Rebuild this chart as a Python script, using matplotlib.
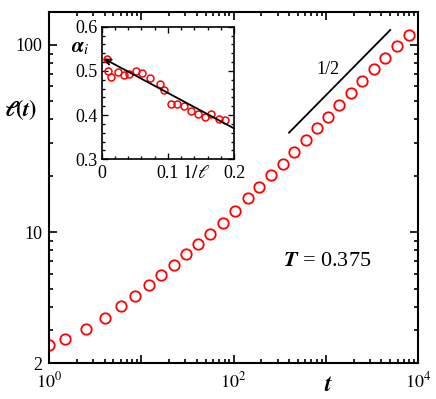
import matplotlib.pyplot as plt
import matplotlib.ticker as mticker

plt.rcParams['font.family'] = ['Liberation Serif', 'DejaVu Serif']
plt.rcParams['mathtext.fontset'] = 'stix'

# domain length l(t) against time t
t = [1.0, 1.49, 2.52, 4.02, 6.08, 8.49, 12.1, 16.5, 22.5, 30.5, 41.5, 56.1, 76.4,
     104.6, 142, 190.5, 255, 341, 453, 607, 804, 1057, 1403, 1878, 2490, 3310,
     4355, 5877, 7925]
ell = [2.51, 2.69, 3.04, 3.49, 4.01, 4.57, 5.21, 5.90, 6.70, 7.61, 8.60, 9.79, 11.2,
       13.0, 15.2, 17.4, 20.3, 23.2, 26.7, 31.1, 35.9, 41.4, 47.8, 55.6, 64.4, 74.3,
       85.5, 98.8, 112.7]

# slope 1/2 guide
guide_t = [400, 5000]
guide_ell = [34.0, 120.2]

# inset: effective exponent alpha_i against 1/l
inv_ell = [0.0085, 0.009, 0.0136, 0.0246, 0.0337, 0.0408, 0.0514, 0.0614, 0.0726,
           0.0877, 0.0942, 0.1043, 0.1138, 0.124, 0.1345, 0.1456, 0.1557, 0.1657,
           0.1773, 0.186]
alpha = [0.526, 0.500, 0.4855, 0.498, 0.491, 0.493, 0.500, 0.496, 0.483, 0.471,
         0.457, 0.425, 0.425, 0.421, 0.410, 0.4025, 0.395, 0.4025, 0.392, 0.388]
fit_x = [0.2, 0.003]
fit_y = [0.370, 0.528]

W, H = 436, 399
fig = plt.figure(figsize=(W / 100, H / 100), dpi=100)


def px_axes(left, top, right, bottom):
    return fig.add_axes([left / W, 1 - bottom / H, (right - left) / W, (bottom - top) / H])


def style(ax, lw, major, minor, size):
    for s in ax.spines.values():
        s.set_linewidth(lw)
    ax.tick_params(which='both', direction='in', top=True, right=True,
                   labelsize=size, width=lw * 0.8)
    ax.tick_params(which='major', length=major)
    ax.tick_params(which='minor', length=minor)


# main plot
ax = px_axes(49, 12, 418, 363)
ax.plot(t, ell, 'o', mfc='none', mec='red', ms=7.5, mew=1.3, ls='none')
ax.plot(guide_t, guide_ell, color='black', lw=1.3)
ax.set_xscale('log')
ax.set_yscale('log')
ax.set_xlim(1, 1e4)
ax.set_ylim(2, 150)
style(ax, 1.5, 6, 3, 13)
ax.xaxis.set_major_locator(mticker.FixedLocator([1, 10, 100, 1000, 10000]))
ax.xaxis.set_major_formatter(mticker.FixedFormatter(
    [r'$10^0$', '', r'$10^2$', '', r'$10^4$']))
ax.xaxis.set_minor_locator(mticker.LogLocator(base=10, subs=range(2, 10)))
ax.xaxis.set_minor_formatter(mticker.NullFormatter())
ax.yaxis.set_major_locator(mticker.FixedLocator([2, 10, 100]))
ax.yaxis.set_major_formatter(mticker.FixedFormatter(['2', '10', '100']))
ax.yaxis.set_minor_locator(mticker.LogLocator(base=10, subs=range(2, 10)))
ax.yaxis.set_minor_formatter(mticker.NullFormatter())
ax.tick_params(axis='x', pad=6)
ax.tick_params(axis='y', pad=5)

ax.text(-0.078, 0.721, r'$\boldsymbol{\ell(t)}$', transform=ax.transAxes,
        fontsize=16, ha='center', va='center')
ax.text(0.756, -0.065, r'$\boldsymbol{t}$', transform=ax.transAxes,
        fontsize=17, ha='center', va='center')
ax.text(0.753, 0.288, r'$\boldsymbol{T}$ = 0.375', transform=ax.transAxes,
        fontsize=16, ha='center', va='center')
ax.text(1066, 73.6, '1/2', fontsize=13, ha='center', va='center')

# inset
ins = px_axes(101.7, 26.7, 234, 159.3)
ins.plot(inv_ell, alpha, 'o', mfc='none', mec='red', ms=5, mew=1.1, ls='none')
ins.annotate('', xy=(fit_x[1], fit_y[1]), xytext=(fit_x[0], fit_y[0]),
             arrowprops=dict(arrowstyle='->', color='black', lw=1.3,
                             shrinkA=0, shrinkB=0, mutation_scale=10))
ins.set_xlim(0, 0.2)
ins.set_ylim(0.3, 0.6)
style(ins, 1.2, 4, 2, 13)
ins.xaxis.set_major_locator(mticker.FixedLocator([0, 0.1, 0.2]))
ins.xaxis.set_major_formatter(mticker.FixedFormatter(['0', '0.1', '0.2']))
ins.xaxis.set_minor_locator(mticker.MultipleLocator(0.02))
ins.yaxis.set_major_locator(mticker.FixedLocator([0.3, 0.4, 0.5, 0.6]))
ins.yaxis.set_major_formatter(mticker.FixedFormatter(['0.3', '0.4', '0.5', '0.6']))
ins.yaxis.set_minor_locator(mticker.MultipleLocator(0.02))
ins.tick_params(axis='x', pad=4)
ins.tick_params(axis='y', pad=3)
ins.text(0.715, -0.103, r'$1/\ell$', transform=ins.transAxes,
         fontsize=14, ha='center', va='center')
ins.text(-0.164, 0.839, r'$\boldsymbol{\alpha}_i$', transform=ins.transAxes,
         fontsize=15, ha='center', va='center')

fig.savefig('out.png', dpi=100)
